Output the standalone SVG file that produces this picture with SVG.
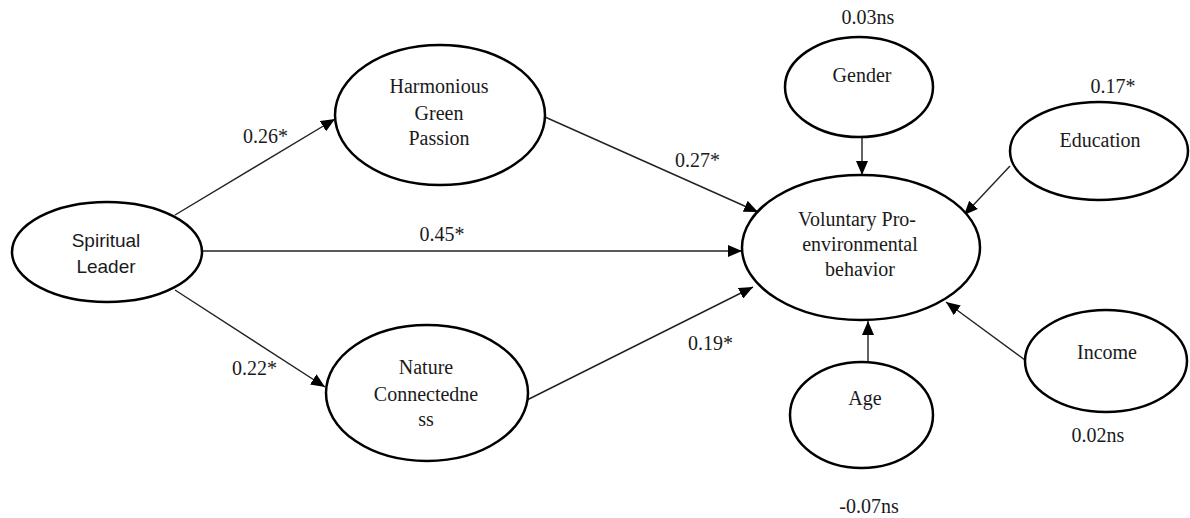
<svg xmlns="http://www.w3.org/2000/svg" width="1190" height="518" viewBox="0 0 1190 518">
<defs>
<marker id="arr" markerUnits="userSpaceOnUse" markerWidth="15" markerHeight="12" refX="14" refY="6" orient="auto">
<path d="M0,0 L14,6 L0,12 z" fill="#000"/>
</marker>
<style>
.node{fill:#fff;stroke:#000;stroke-width:2.5}
.t{font-family:"Liberation Serif","Times New Roman",serif;font-size:20px;fill:#1a1a1a;text-anchor:middle}
.s{font-family:"Liberation Sans",Arial,sans-serif;font-size:19px;fill:#1a1a1a;text-anchor:middle}
.lbl{font-family:"Liberation Serif","Times New Roman",serif;font-size:20px;fill:#1a1a1a}
.c{stroke:#222;stroke-width:1.4;fill:none;marker-end:url(#arr)}
</style>
</defs>
<rect width="1190" height="518" fill="#fff"/>
<g id="connectors">
<line class="c" x1="175" y1="215" x2="335" y2="119"/>
<line class="c" x1="202" y1="251" x2="742" y2="251"/>
<line class="c" x1="175" y1="290" x2="325" y2="387"/>
<line class="c" x1="545" y1="117" x2="758" y2="212"/>
<line class="c" x1="527" y1="400" x2="753" y2="287"/>
<line class="c" x1="862" y1="137" x2="862" y2="175"/>
<line class="c" x1="1010" y1="166" x2="964" y2="215"/>
<line class="c" x1="1025" y1="360" x2="946" y2="302"/>
<line class="c" x1="868" y1="362" x2="868" y2="321"/>
<text class="lbl" x="243" y="143">0.26*</text>
<text class="lbl" x="442" y="241" text-anchor="middle">0.45*</text>
<text class="lbl" x="232" y="375">0.22*</text>
<text class="lbl" x="675" y="167">0.27*</text>
<text class="lbl" x="688" y="350">0.19*</text>
</g>
<g id="spiritual">
<ellipse class="node" cx="107" cy="252" rx="95" ry="50"/>
<text class="s" x="106" y="247">Spiritual</text>
<text class="s" x="106" y="273">Leader</text>
</g>
<g id="harmonious">
<ellipse class="node" cx="440" cy="115" rx="105" ry="70"/>
<text class="t" x="439" y="93">Harmonious</text>
<text class="t" x="439" y="120">Green</text>
<text class="t" x="439" y="145">Passion</text>
</g>
<g id="nature">
<ellipse class="node" cx="427" cy="393" rx="101" ry="68"/>
<text class="t" x="426" y="374">Nature</text>
<text class="t" x="426" y="401">Connectedne</text>
<text class="t" x="426" y="426">ss</text>
</g>
<g id="voluntary">
<ellipse class="node" cx="861" cy="247.5" rx="119" ry="72.5"/>
<text class="t" x="857" y="226">Voluntary Pro-</text>
<text class="t" x="860" y="251">environmental</text>
<text class="t" x="860" y="276">behavior</text>
</g>
<g id="gender">
<ellipse class="node" cx="859" cy="87" rx="74" ry="50"/>
<text class="t" x="862" y="82">Gender</text>
<text class="t" x="868" y="24">0.03ns</text>
</g>
<g id="education">
<ellipse class="node" cx="1099" cy="151" rx="89" ry="49"/>
<text class="t" x="1100" y="147">Education</text>
<text class="t" x="1113" y="93">0.17*</text>
</g>
<g id="income">
<ellipse class="node" cx="1106" cy="361" rx="81" ry="51"/>
<text class="t" x="1107" y="359">Income</text>
<text class="t" x="1098" y="442">0.02ns</text>
</g>
<g id="age">
<ellipse class="node" cx="861.5" cy="415" rx="71.5" ry="53"/>
<text class="t" x="865" y="405">Age</text>
<text class="t" x="869" y="513">-0.07ns</text>
</g>
</svg>
